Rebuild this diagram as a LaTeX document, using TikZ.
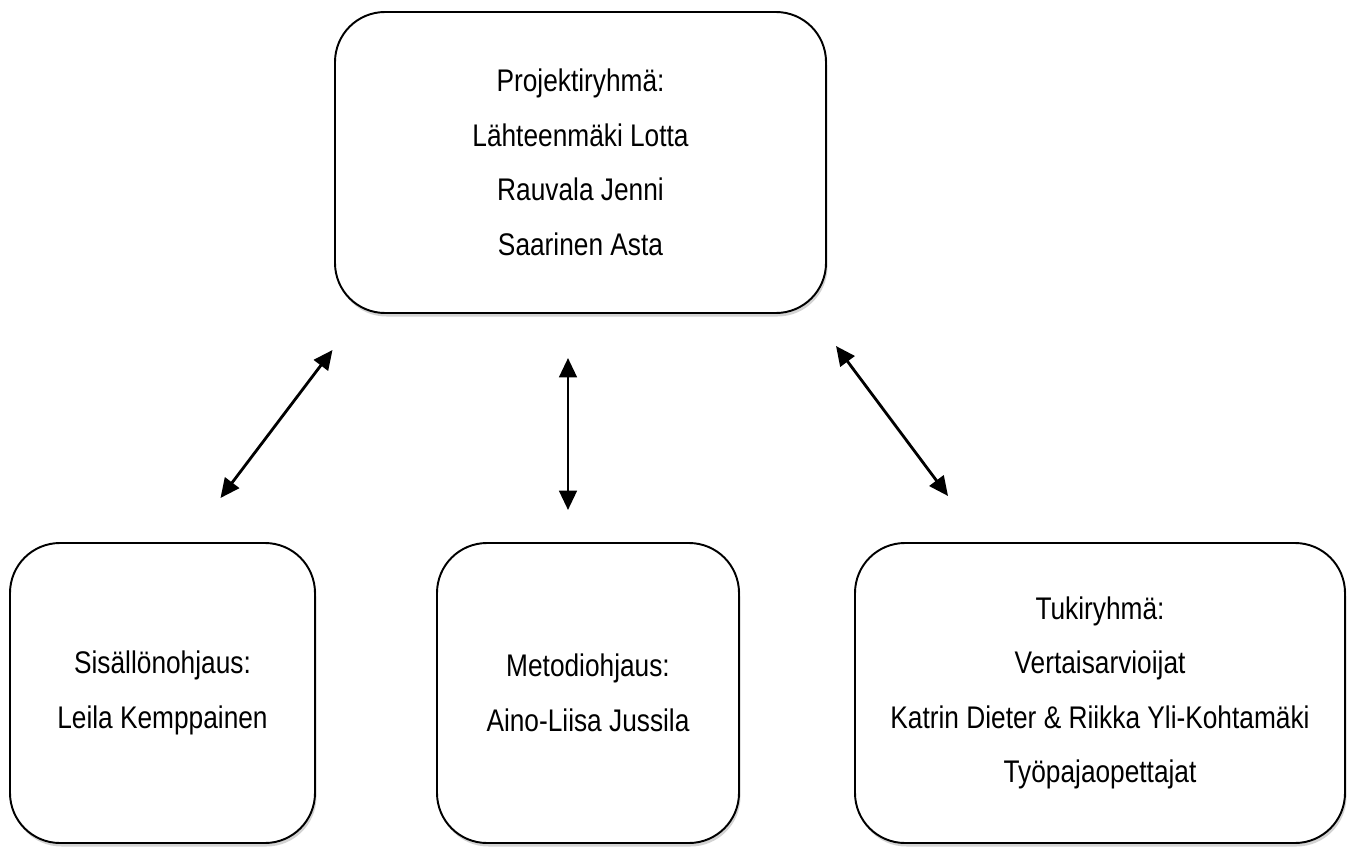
\documentclass[tikz,border=0pt]{standalone}
\usepackage{fontspec}
\setmainfont[FakeStretch=0.84]{Liberation Sans}
\usetikzlibrary{arrows.meta,shadows}
\begin{document}
\begin{tikzpicture}[font=\fontsize{17.8pt}{31pt}\selectfont,
  box/.style={rectangle, draw=black, line width=1.1pt, rounded corners=1cm, fill=white, align=center, inner sep=0pt,
    drop shadow={shadow xshift=0.03cm, shadow yshift=-0.07cm, opacity=0.35}},
  link/.style={line width=1.6pt, {Triangle[length=11pt,width=10pt]}-{Triangle[length=11pt,width=10pt]}}]
  \useasboundingbox (0,0) rectangle (27.08,16.96);
  % ryhmat
  \node[box, minimum width=9.82cm, minimum height=6.02cm] (proj) at (11.61,13.71) {Projektiryhmä:\\Lähteenmäki Lotta\\Rauvala Jenni\\Saarinen Asta};
  \node[box, minimum width=6.1cm, minimum height=6cm] (sis) at (3.25,3.1) {Sisällönohjaus:\\Leila Kemppainen};
  \node[box, minimum width=6.04cm, minimum height=6cm] (met) at (11.76,3.1) {Metodiohjaus:\\Aino-Liisa Jussila};
  \node[box, minimum width=9.8cm, minimum height=6cm] (tuki) at (22,3.1) {Tukiryhmä:\\Vertaisarvioijat\\Katrin Dieter \& Riikka Yli-Kohtamäki\\Työpajaopettajat};
  % nuolten paat
  \coordinate (s1) at (6.65,9.96);
  \coordinate (s2) at (4.41,7.0);
  \coordinate (m1) at (11.36,9.8);
  \coordinate (m2) at (11.36,6.76);
  \coordinate (t1) at (16.72,10.04);
  \coordinate (t2) at (18.96,7.04);
  \draw[link] (s1) -- (s2);
  \draw[link] (m1) -- (m2);
  \draw[link] (t1) -- (t2);
\end{tikzpicture}
\end{document}
